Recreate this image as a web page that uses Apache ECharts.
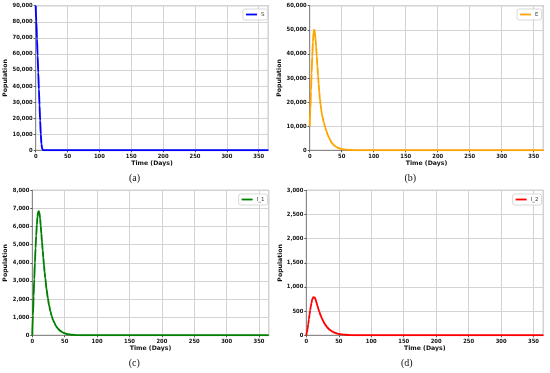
<!DOCTYPE html>
<html>
<head>
<meta charset="utf-8">
<script src="https://cdn.jsdelivr.net/npm/echarts@6/dist/echarts.min.js"></script>
<style>html,body{margin:0;padding:0;background:#fff;}#c{width:550px;height:373px;}</style>
</head>
<body>
<div id="c"></div>
<script>
// ---- data ----
var days = [0,1,2,3,4,5,6,7,8,9,10,11,12,13,14,15,16,17,18,19,20,22,24,26,28,30,32,34,36,38,40,43,46,50,55,60,70,80,100,150,200,250,300,365];
var sVals = [90000,80000,69500,59000,48500,38000,28000,18500,10000,4000,1300,400,120,40,15,5,2,1,0,0,0,0,0,0,0,0,0,0,0,0,0,0,0,0,0,0,0,0,0,0,0,0,0,0];
var eVals = [10000,17000,24500,32000,39000,45000,48800,50000,49000,46500,43000,39000,35000,31000,27500,24000,21200,18900,16900,15200,13800,11600,9700,8000,6500,5300,4300,3300,2600,2050,1650,1180,820,520,290,160,50,16,2,0,0,0,0,0];
var i1Vals = [0,1100,2150,3100,4000,4800,5500,6100,6550,6800,6850,6750,6450,6050,5600,5150,4700,4280,3880,3500,3150,2550,2050,1650,1320,1060,850,690,550,440,350,250,175,110,60,32,10,3,0,0,0,0,0,0];
var i2Vals = [0,60,140,230,330,430,520,600,670,730,770,790,795,780,750,710,665,620,575,530,490,415,350,295,245,205,170,140,115,95,78,58,43,30,18,11,4,1,0,0,0,0,0,0];
var seriesNames = ['S','E','I_1','I_2'];
var yMax = [90000,60000,8000,3000];
var yInterval = [10000,10000,1000,500];
var xTicks = [0,50,100,150,200,250,300,350];
var panelLabels = ['(a)','(b)','(c)','(d)'];

var colors = ['#0000ff','#ffa500','#008000','#ff0000'];
var allVals = [sVals,eVals,i1Vals,i2Vals];
var grids = [
  {left:35.7, top:5.7, width:232.6, height:144.6},
  {left:309.7, top:5.7, width:233.6, height:144.6},
  {left:32.3, top:190.3, width:236.4, height:145},
  {left:306.3, top:190.3, width:237, height:145}
];
var nameGaps = [27,26,23.6,23.3];
var legendPos = [
  {right:282.5, top:9},{right:8.5, top:9},{right:282.5, top:194},{right:8.5, top:194}
];
var labelPos = [[137,179],[412.5,179],[136.7,364],[409,364]];

function commas(v){
  var s = String(Math.round(v));
  return s.replace(/\B(?=(\d{3})+(?!\d))/g, ',');
}

var tickFont = {fontSize:5.8, fontWeight:'bold', fontFamily:'Liberation Sans Narrow, DejaVu Sans Condensed, Liberation Sans, sans-serif', color:'#111'};
var option = {
  animation:false,
  backgroundColor:'#fff',
  grid:[], xAxis:[], yAxis:[], series:[], legend:[], graphic:[]
};
for (var k=0;k<4;k++){
  var g = grids[k];
  option.grid.push({left:g.left, top:g.top, width:g.width, height:g.height, show:true, borderColor:'#8a8a8a', borderWidth:1, backgroundColor:'#fff'});
  option.xAxis.push({
    type:'value', gridIndex:k, min:0, max:365, interval:50,
    name:'Time (Days)', nameLocation:'middle', nameGap:10.5,
    nameTextStyle:{fontSize:6.2, fontWeight:'bold', fontFamily:'DejaVu Sans', color:'#111'},
    axisLine:{show:true, lineStyle:{color:'#8a8a8a', width:1}},
    axisTick:{show:true, length:2, lineStyle:{color:'#555'}},
    axisLabel:Object.assign({margin:3, showMaxLabel:false, formatter:function(v){return xTicks.indexOf(v)>=0 ? String(v) : '';}}, tickFont),
    splitLine:{show:true, lineStyle:{color:'#d3d3d3', width:1}}
  });
  option.yAxis.push({
    type:'value', gridIndex:k, min:0, max:yMax[k], interval:yInterval[k],
    name:'Population', nameLocation:'middle', nameGap:nameGaps[k],
    nameTextStyle:{fontSize:6.2, fontWeight:'bold', fontFamily:'DejaVu Sans', color:'#111'},
    axisLine:{show:true, lineStyle:{color:'#8a8a8a', width:1}},
    axisTick:{show:true, length:2, lineStyle:{color:'#555'}},
    axisLabel:Object.assign({margin:3, formatter:function(v){return commas(v);}}, tickFont),
    splitLine:{show:true, lineStyle:{color:'#d3d3d3', width:1}}
  });
  var vals = allVals[k];
  var data = days.map(function(d,i){return [d, vals[i]];});
  option.series.push({
    type:'line', name:seriesNames[k], xAxisIndex:k, yAxisIndex:k, data:data,
    showSymbol:false, symbol:'none', smooth:0.35, smoothMonotone:'x',
    lineStyle:{color:colors[k], width:1.9}, itemStyle:{color:colors[k]}
  });
  option.legend.push({
    data:[seriesNames[k]], right:legendPos[k].right, top:legendPos[k].top,
    orient:'vertical', icon:'rect', itemWidth:11, itemHeight:1.8, itemGap:2,
    padding:[1.5,3,1.5,3], borderColor:'#cfcfcf', borderWidth:0.8, borderRadius:2,
    backgroundColor:'rgba(255,255,255,0.85)',
    textStyle:{fontSize:5.5, lineHeight:8, color:'#333', fontFamily:'DejaVu Sans', padding:[0,0,0,-1]}
  });
  option.graphic.push({
    type:'text', left:labelPos[k][0]-8, top:labelPos[k][1]-6,
    style:{text:panelLabels[k], font:'10px "Liberation Serif", serif', fill:'#111', textAlign:'left'}
  });
}
var chart = echarts.init(document.getElementById('c'), null, {renderer:'canvas'});
chart.setOption(option);
</script>
</body>
</html>
